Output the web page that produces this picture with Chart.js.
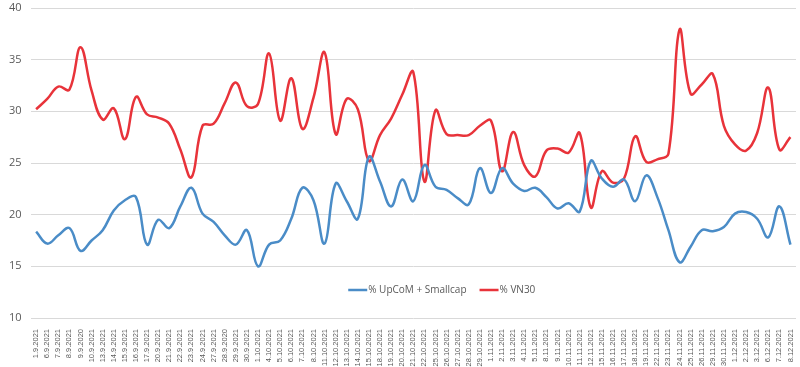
<!DOCTYPE html>
<html><head><meta charset="utf-8">
<script src="https://cdn.jsdelivr.net/npm/chart.js@4.4.1/dist/chart.umd.min.js"></script>
<style>html,body{margin:0;padding:0;background:#fff}#wrap{width:800px;height:367px;position:relative}</style>
</head><body><div id="wrap"><canvas id="c"></canvas></div>
<script>
const labels = [
  "1.9.2021","6.9.2021","7.9.2021","8.9.2021","9.9.2020","10.9.2021","13.9.2021","14.9.2021","15.9.2021","16.9.2021",
  "17.9.2021","20.9.2021","21.9.2021","22.9.2021","23.9.2021","24.9.2021","27.9.2021","28.9.2020","29.9.2021","30.9.2021",
  "1.10.2021","4.10.2021","5.10.2021","6.10.2021","7.10.2021","8.10.2021","11.10.2021","12.10.2021","13.10.2021","14.10.2021",
  "15.10.2021","18.10.2021","19.10.2021","20.10.2021","21.10.2021","22.10.2021","25.10.2021","26.10.2021","27.10.2021","28.10.2021",
  "29.10.2021","1.11.2021","2.11.2021","3.11.2021","4.11.2021","5.11.2021","8.11.2021","9.11.2021","10.11.2021","11.11.2021",
  "12.11.2021","15.11.2021","16.11.2021","17.11.2021","18.11.2021","19.11.2021","22.11.2021","23.11.2021","24.11.2021","25.11.2021",
  "26.11.2021","29.11.2021","30.11.2021","1.12.2021","2.12.2021","3.12.2021","6.12.2021","7.12.2021","8.12.2021"
];
const upcomSmallcap = [
  18.35,17.2,18.0,18.7,16.5,17.5,18.5,20.4,21.4,21.7,
  17.1,19.5,18.7,20.8,22.6,20.1,19.3,18.0,17.1,18.5,
  15.0,17.1,17.5,19.6,22.6,21.4,17.2,23.0,21.3,19.6,
  25.6,23.2,20.8,23.4,21.3,24.8,22.7,22.4,21.6,21.0,
  24.5,22.1,24.5,23.0,22.3,22.6,21.7,20.6,21.1,20.3,
  25.2,23.5,22.7,23.4,21.3,23.8,21.7,18.5,15.4,16.9,
  18.5,18.4,18.8,20.1,20.25,19.6,17.8,20.8,17.1
];
const vn30 = [
  30.2,31.2,32.4,32.1,36.2,32.0,29.2,30.3,27.3,31.4,
  29.7,29.4,28.8,26.3,23.6,28.6,28.8,30.8,32.8,30.5,
  30.7,35.6,29.1,33.2,28.3,31.3,35.7,27.8,31.2,30.2,
  25.2,27.7,29.3,31.6,33.8,23.2,30.1,27.8,27.7,27.7,
  28.6,29.1,24.2,28.0,24.8,23.7,26.2,26.4,26.0,27.9,
  20.7,24.2,23.1,23.5,27.6,25.1,25.35,25.9,37.9,31.7,
  32.6,33.6,28.6,26.8,26.2,27.9,32.3,26.3,27.5
];
const seriesNames = ["% UpCoM + Smallcap", "% VN30"];
const seriesColors = ["#4a8cc7", "#e8333a"];
const yMin = 10, yMax = 40, yStep = 5;

const inAreaLegend = {
  id: 'inAreaLegend',
  afterDraw(chart) {
    const ctx = chart.ctx, a = chart.chartArea;
    const y = a.bottom - 28;
    let x = a.left + (a.right - a.left) * 0.415;
    ctx.save();
    ctx.font = '10px "Open Sans", sans-serif';
    ctx.textBaseline = 'middle';
    ctx.textAlign = 'left';
    seriesNames.forEach((name, i) => {
      ctx.strokeStyle = seriesColors[i];
      ctx.lineWidth = 2.5;
      ctx.beginPath(); ctx.moveTo(x, y); ctx.lineTo(x + 19, y); ctx.stroke();
      ctx.fillStyle = '#595959';
      ctx.fillText(name, x + 20, y);
      x += 20 + ctx.measureText(name).width + 13;
    });
    ctx.restore();
  }
};

new Chart(document.getElementById('c'), {
  type: 'line',
  data: {
    labels: labels,
    datasets: [
      { label: seriesNames[0], data: upcomSmallcap, borderColor: seriesColors[0], backgroundColor: seriesColors[0], borderWidth: 2.5, pointRadius: 0, tension: 0.4, fill: false },
      { label: seriesNames[1], data: vn30, borderColor: seriesColors[1], backgroundColor: seriesColors[1], borderWidth: 2.5, pointRadius: 0, tension: 0.4, fill: false }
    ]
  },
  options: {
    responsive: true,
    maintainAspectRatio: false,
    animation: false,
    layout: { padding: { left: 0, right: 4, top: 8, bottom: 0 } },
    plugins: { legend: { display: false }, tooltip: { enabled: false } },
    scales: {
      x: {
        offset: true,
        grid: { display: false },
        border: { display: false },
        afterFit(scale) { scale.height = 49; scale.paddingLeft = 0; scale.paddingRight = 0; },
        ticks: { autoSkip: false, maxRotation: 90, minRotation: 90, color: '#595959', font: { size: 7.5, family: '"Liberation Sans", sans-serif' }, padding: 3 }
      },
      y: {
        min: yMin, max: yMax,
        grid: { color: '#d9d9d9', drawTicks: false },
        border: { display: false },
        afterFit(scale) { scale.paddingTop = 0; scale.paddingBottom = 0; },
        ticks: { stepSize: yStep, color: '#595959', font: { size: 11, family: '"Open Sans", sans-serif' }, padding: 9 }
      }
    }
  },
  plugins: [inAreaLegend]
});
</script>
</body></html>
